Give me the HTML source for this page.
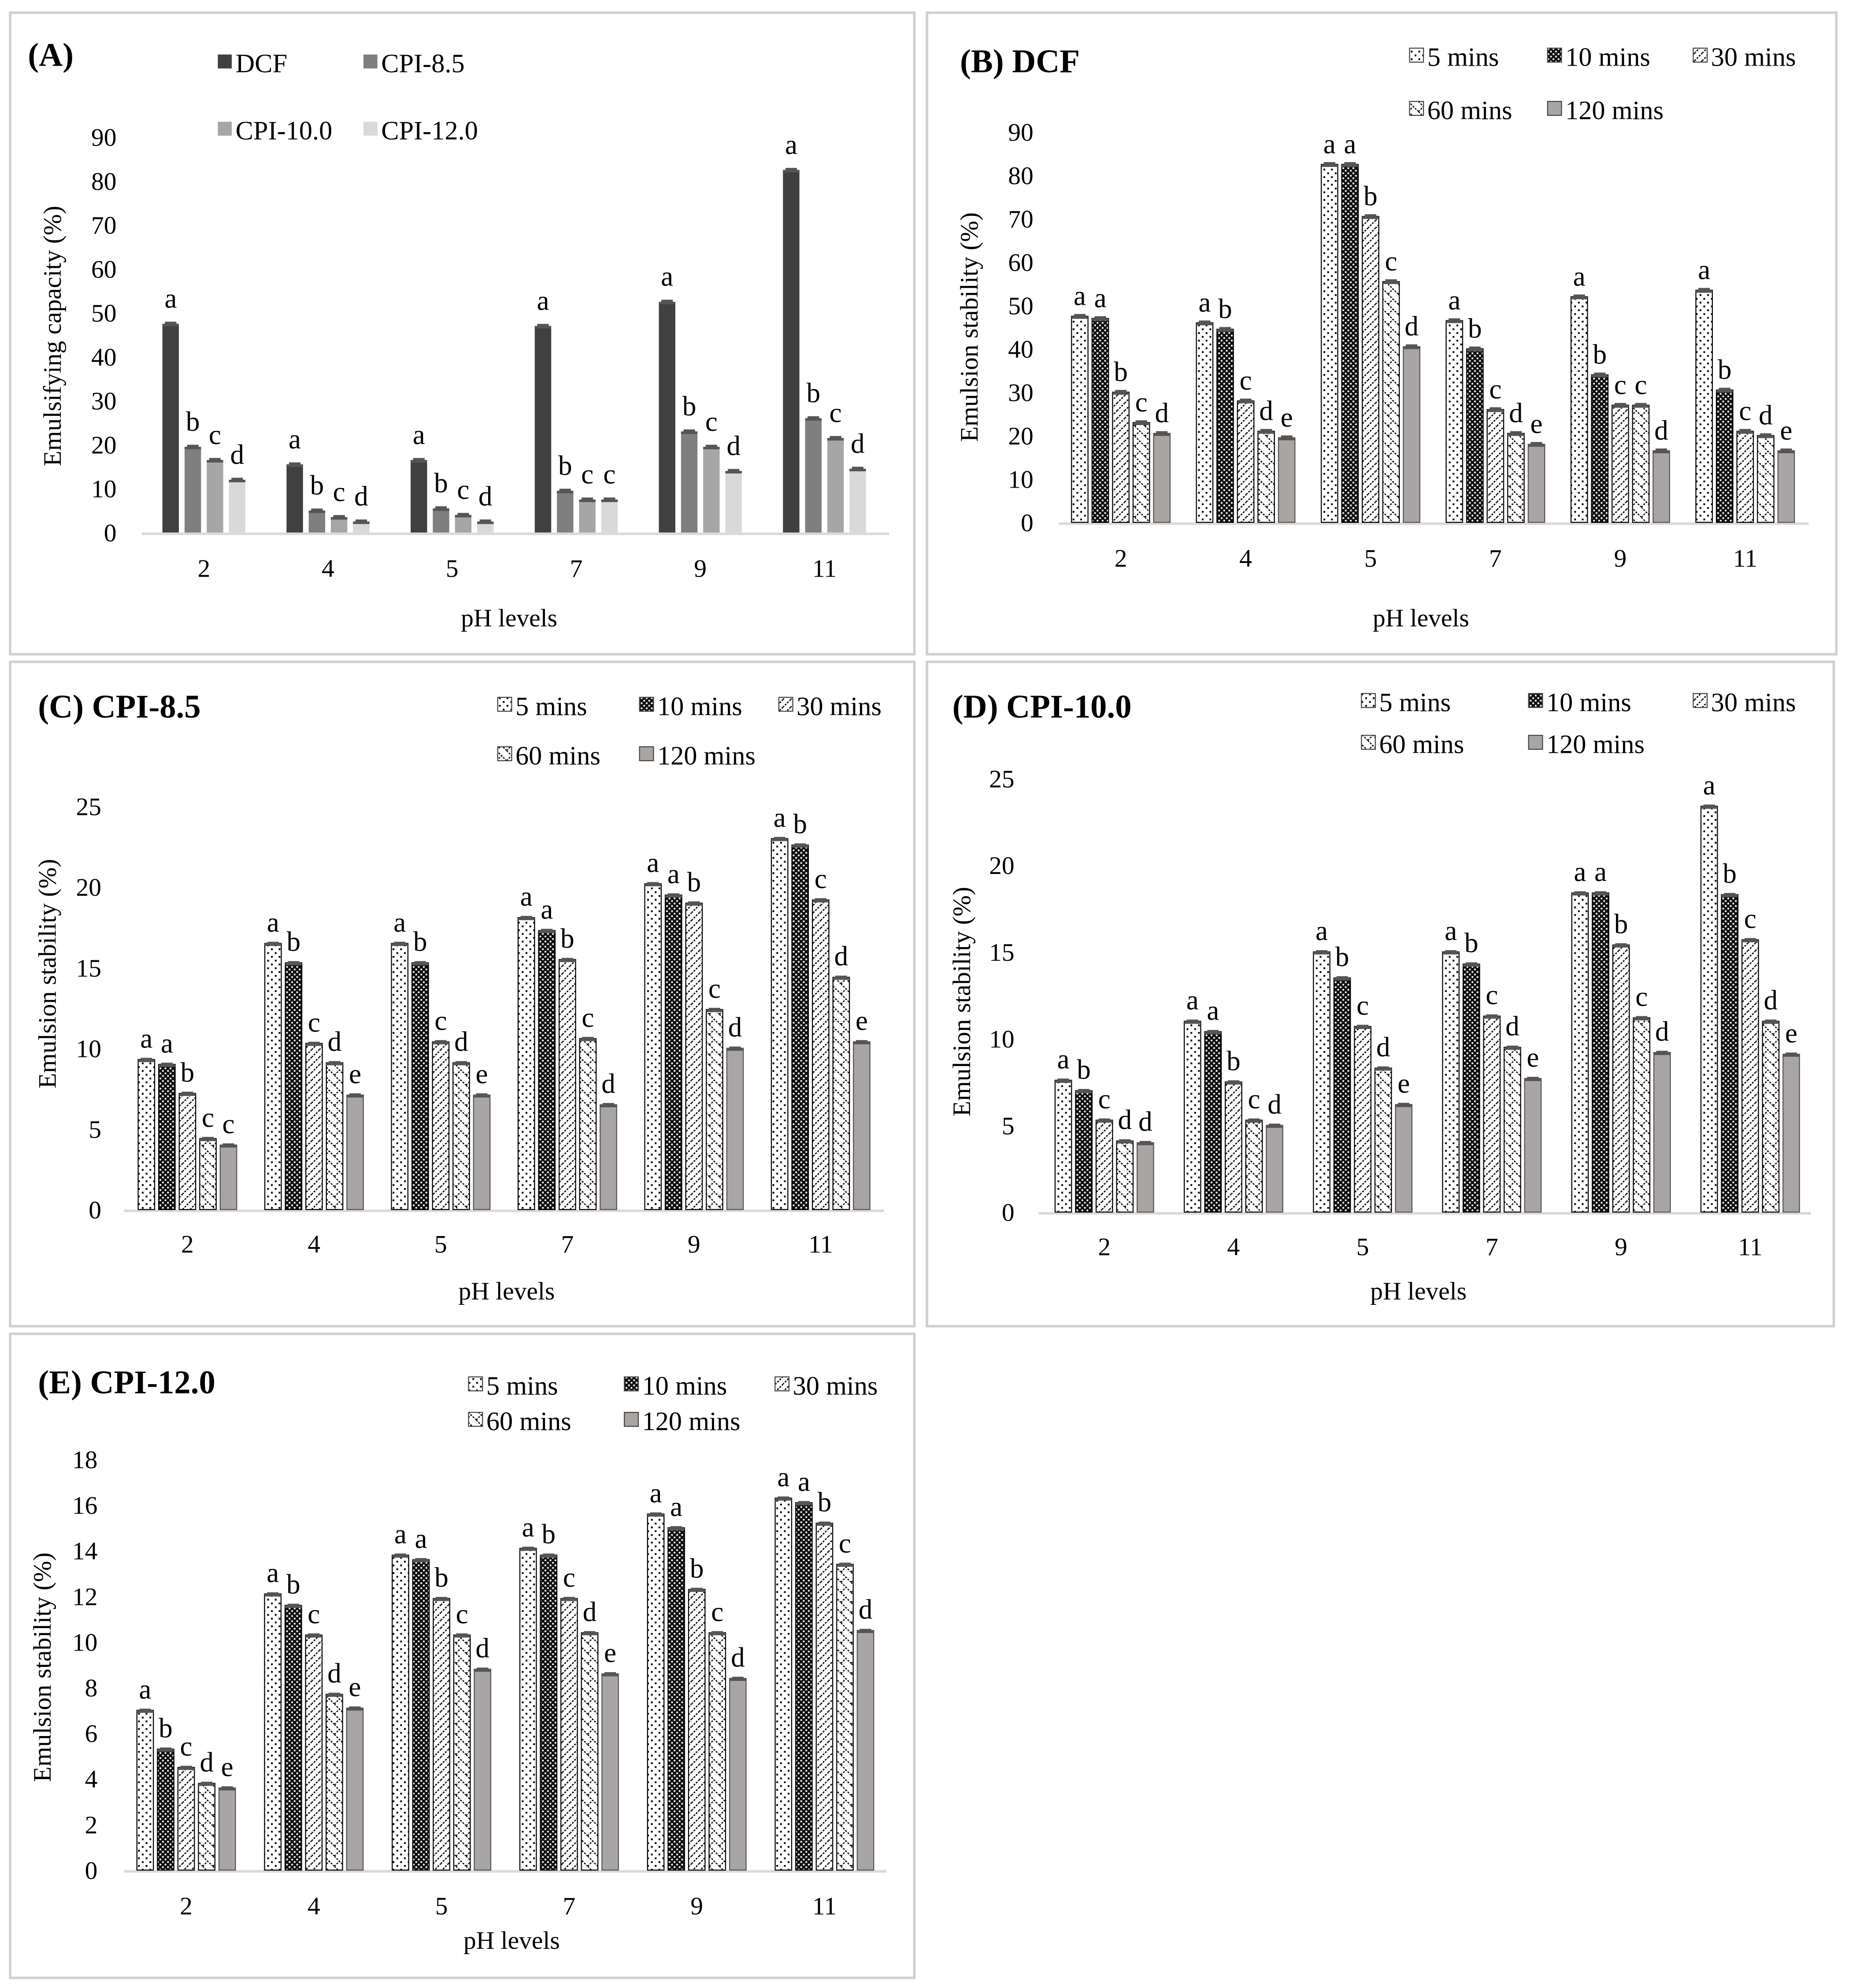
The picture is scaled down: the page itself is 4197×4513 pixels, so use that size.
<!DOCTYPE html>
<html><head><meta charset="utf-8"><style>
html,body{margin:0;padding:0;background:#fff}
svg{display:block;font-family:"Liberation Serif",serif}
</style></head><body>
<svg id="fig" xmlns="http://www.w3.org/2000/svg" width="4197" height="4513" viewBox="0 0 1460 1568" preserveAspectRatio="none">
<defs>
<pattern id="p0" width="6" height="6" patternUnits="userSpaceOnUse"><rect width="6" height="6" fill="#fff"/><rect x="1" y="1" width="1.4" height="1.4" fill="#000"/><rect x="4" y="4" width="1.4" height="1.4" fill="#000"/></pattern>
<pattern id="p1" width="4" height="4" patternUnits="userSpaceOnUse"><rect width="4" height="4" fill="#111"/><rect x="0" y="0" width="1.3" height="1.3" fill="#fff"/><rect x="2" y="2" width="1.3" height="1.3" fill="#fff"/></pattern>
<pattern id="p2" width="6" height="6" patternUnits="userSpaceOnUse"><rect width="6" height="6" fill="#fff"/><path d="M0 6L6 0M-1 1L1 -1M5 7L7 5" stroke="#000" stroke-width="1" stroke-dasharray="1.5 1"/></pattern>
<pattern id="p3" width="8" height="8" patternUnits="userSpaceOnUse"><rect width="8" height="8" fill="#fff"/><path d="M0 0L8 8M0 8L4 4" stroke="#000" stroke-width="0.9" stroke-dasharray="1.5 1"/></pattern>
<pattern id="p4" width="4" height="4" patternUnits="userSpaceOnUse"><rect width="4" height="4" fill="#a9a5a5"/></pattern>
</defs>
<g id="root"></g>
</svg>
<script>
// Panel A data
const catA = ["2","4","5","7","9","11"];
const serA = ["DCF","CPI-8.5","CPI-10.0","CPI-12.0"];
const aDCF = [47.5,15.5,16.5,47,52.5,82.5];
const aC85 = [19.5,5,5.5,9.5,23,26];
const aC10 = [16.5,3.5,4,7.5,19.5,21.5];
const aC12 = [12,2.5,2.5,7.5,14,14.5];
const lettersA = [["a","b","c","d"],["a","b","c","d"],["a","b","c","d"],["a","b","c","c"],["a","b","c","d"],["a","b","c","d"]];
const ticksA = [0,10,20,30,40,50,60,70,80,90];
// Time series names
const serT = ["5 mins","10 mins","30 mins","60 mins","120 mins"];
// Panel B (DCF)
const b5 = [47.5,46,82.5,46.5,52,53.5];
const b10 = [47,44.5,82.5,40,34,30.5];
const b30 = [30,28,70.5,26,27,21];
const b60 = [23,21,55.5,20.5,27,20];
const b120 = [20.5,19.5,40.5,18,16.5,16.5];
const lettersB = [["a","a","b","c","d"],["a","b","c","d","e"],["a","a","b","c","d"],["a","b","c","d","e"],["a","b","c","c","d"],["a","b","c","d","e"]];
const ticksB = [0,10,20,30,40,50,60,70,80,90];
// Panel C (CPI-8.5)
const c5 = [9.3,16.5,16.5,18.1,20.2,23];
const c10 = [9,15.3,15.3,17.3,19.5,22.6];
const c30 = [7.2,10.3,10.4,15.5,19,19.2];
const c60 = [4.4,9.1,9.1,10.6,12.4,14.4];
const c120 = [4,7.1,7.1,6.5,10,10.4];
const lettersC = [["a","a","b","c","c"],["a","b","c","d","e"],["a","b","c","d","e"],["a","a","b","c","d"],["a","a","b","c","d"],["a","b","c","d","e"]];
const ticksC = [0,5,10,15,20,25];
// Panel D (CPI-10.0)
const d5 = [7.6,11,15,15,18.4,23.4];
const d10 = [7,10.4,13.5,14.3,18.4,18.3];
const d30 = [5.3,7.5,10.7,11.3,15.4,15.7];
const d60 = [4.1,5.3,8.3,9.5,11.2,11];
const d120 = [4,5,6.2,7.7,9.2,9.1];
const lettersD = [["a","b","c","d","d"],["a","a","b","c","d"],["a","b","c","d","e"],["a","b","c","d","e"],["a","a","b","c","d"],["a","b","c","d","e"]];
const ticksD = [0,5,10,15,20,25];
// Panel E (CPI-12.0)
const e5 = [7,12.1,13.8,14.1,15.6,16.3];
const e10 = [5.3,11.6,13.6,13.8,15,16.1];
const e30 = [4.5,10.3,11.9,11.9,12.3,15.2];
const e60 = [3.8,7.7,10.3,10.4,10.4,13.4];
const e120 = [3.6,7.1,8.8,8.6,8.4,10.5];
const lettersE = [["a","b","c","d","e"],["a","b","c","d","e"],["a","a","b","c","d"],["a","b","c","d","e"],["a","a","b","c","d"],["a","a","b","c","d"]];
const ticksE = [0,2,4,6,8,10,12,14,16,18];

const NS = "http://www.w3.org/2000/svg";
const root = document.getElementById("root");
function mk(tag, attrs, parent, txt){
  const e = document.createElementNS(NS, tag);
  for (const k in attrs) e.setAttribute(k, attrs[k]);
  if (txt !== undefined) e.textContent = txt;
  (parent||root).appendChild(e);
  return e;
}
function panel(cfg){
  const g = mk("g", {});
  
  
  const box = mk("rect", {x:cfg.box[0], y:cfg.box[1], width:cfg.box[2]-cfg.box[0], height:cfg.box[3]-cfg.box[1], fill:"none", stroke:"#d0d0d0", "stroke-width":2}, g);
  
  
  const yMax = cfg.ticks[cfg.ticks.length-1];
  const yS = v => cfg.y0 - (v/yMax)*(cfg.y0-cfg.yTop);
  const xC = i => cfg.x0 + i*cfg.dx;
  const t = mk("text", {x:cfg.title[1], y:cfg.title[2], "font-size":26, "font-weight":"bold"}, g, cfg.title[0]);
  
  
  cfg.ticks.forEach(v=>{
    const tl = mk("text", {x:cfg.tickX, y:yS(v)+7, "font-size":20, "text-anchor":"end"}, g, String(v));
    
    
  });
  const ax = mk("line", {x1:cfg.axis[0], x2:cfg.axis[1], y1:cfg.y0+1, y2:cfg.y0+1, stroke:"#d9d9d9", "stroke-width":2}, g);
  
  
  const n = cfg.series.length;
  const step = cfg.step, bw = cfg.bw;
  cfg.cats.forEach((c,i)=>{
    const start = xC(i) - n*step/2 + (step-bw)/2;
    cfg.series.forEach((arr,s)=>{
      const v = arr[i];
      const x = start + s*step, y = yS(v);
      const r = mk("rect", {x:x, y:y, width:bw, height:cfg.y0-y, fill:cfg.fills[s], stroke:cfg.stroke[s], "stroke-width":cfg.pat?0.8:0}, g);
      
      
      const eh = cfg.err;
      const ep = mk("path", {d:`M${x+bw*0.15} ${y-eh}H${x+bw*0.85}M${x+bw/2} ${y-eh}V${y+eh}M${x+bw*0.15} ${y+eh}H${x+bw*0.85}M${x} ${y+1}H${x+bw}`, stroke:"#555", "stroke-width":2, fill:"none"}, g);
      
      
      const lt = mk("text", {x:x+bw/2, y:y-eh-cfg.lgap, "font-size":22, "text-anchor":"middle"}, g, cfg.letters[i][s]);
      
      
    });
    const xl = mk("text", {x:xC(i), y:cfg.xlabY, "font-size":20, "text-anchor":"middle"}, g, c);
    
    
  });
  const xt = mk("text", {x:cfg.xTitle[0], y:cfg.xTitle[1], "font-size":20, "text-anchor":"middle"}, g, "pH levels");
  
  
  const yt = mk("text", {x:0, y:0, "font-size":20, "text-anchor":"middle", transform:`translate(${cfg.yTitle[0]},${cfg.yTitle[1]}) rotate(-90)`}, g, cfg.yTitleText);
  
  
  cfg.legend.forEach((p,s)=>{
    const lg = mk("g", {}, g);
    
    
    mk("rect", {x:p[0], y:p[1]-7, width:11, height:11, fill:cfg.fills[s], stroke:cfg.pat?"#444":"none", "stroke-width":0.8}, lg);
    mk("text", {x:p[0]+14, y:p[1]+7, "font-size":21}, lg, cfg.serNames[s]);
  });
}
const patFills = ["url(#p0)","url(#p1)","url(#p2)","url(#p3)","url(#p4)"];
const patStroke = ["#000","#000","#000","#000","#555"];
panel({name:"panel-a-emulsifying-capacity", box:[8,10,722,516], title:["(A)",22,52], ticks:ticksA, y0:420, yTop:108, tickX:92,
  x0:161, dx:98, step:17.5, bw:13, err:0.6, lgap:12, axis:[112,702], cats:catA, series:[aDCF,aC85,aC10,aC12], serNames:serA,
  fills:["#404040","#7f7f7f","#a6a6a6","#d9d9d9"], stroke:["none","none","none","none"], pat:false, letters:lettersA,
  xlabY:455, xTitle:[402,494], yTitle:[48,265], yTitleText:"Emulsifying capacity (%)",
  legend:[[172,50],[287,50],[172,103],[287,103]]});
panel({name:"panel-b-dcf-stability", box:[732,10,1450,516], title:["(B) DCF",758,57], ticks:ticksB, y0:412, yTop:104, tickX:816,
  x0:885, dx:98.6, step:16.2, bw:13, err:0.8, lgap:8, axis:[836,1428], cats:catA, series:[b5,b10,b30,b60,b120], serNames:serT,
  fills:patFills, stroke:patStroke, pat:true, letters:lettersB,
  xlabY:447, xTitle:[1122,494], yTitle:[772,258], yTitleText:"Emulsion stability (%)",
  legend:[[1113,45],[1222,45],[1337,45],[1113,87],[1222,87]]});
panel({name:"panel-c-cpi85-stability", box:[8,522,722,1046], title:["(C) CPI-8.5",30,566], ticks:ticksC, y0:954, yTop:636, tickX:80,
  x0:148, dx:100, step:16.2, bw:13, err:0.35, lgap:9, axis:[98,698], cats:catA, series:[c5,c10,c30,c60,c120], serNames:serT,
  fills:patFills, stroke:patStroke, pat:true, letters:lettersC,
  xlabY:988, xTitle:[400,1025], yTitle:[44,768], yTitleText:"Emulsion stability (%)",
  legend:[[393,557],[505,557],[615,557],[393,596],[505,596]]});
panel({name:"panel-d-cpi10-stability", box:[732,522,1448,1046], title:["(D) CPI-10.0",752,566], ticks:ticksD, y0:956, yTop:614, tickX:801,
  x0:872, dx:102, step:16.2, bw:13, err:0.35, lgap:9, axis:[820,1430], cats:catA, series:[d5,d10,d30,d60,d120], serNames:serT,
  fills:patFills, stroke:patStroke, pat:true, letters:lettersD,
  xlabY:990, xTitle:[1120,1025], yTitle:[766,790], yTitleText:"Emulsion stability (%)",
  legend:[[1075,554],[1207,554],[1337,554],[1075,587],[1207,587]]});
panel({name:"panel-e-cpi12-stability", box:[8,1052,722,1560], title:["(E) CPI-12.0",30,1099], ticks:ticksE, y0:1475, yTop:1151, tickX:77,
  x0:147, dx:100.8, step:16.2, bw:13, err:0.3, lgap:9, axis:[98,700], cats:catA, series:[e5,e10,e30,e60,e120], serNames:serT,
  fills:patFills, stroke:patStroke, pat:true, letters:lettersE,
  xlabY:1510, xTitle:[404,1537], yTitle:[40,1315], yTitleText:"Emulsion stability (%)",
  legend:[[370,1093],[493,1093],[612,1093],[370,1121],[493,1121]]});
</script>
</body></html>
